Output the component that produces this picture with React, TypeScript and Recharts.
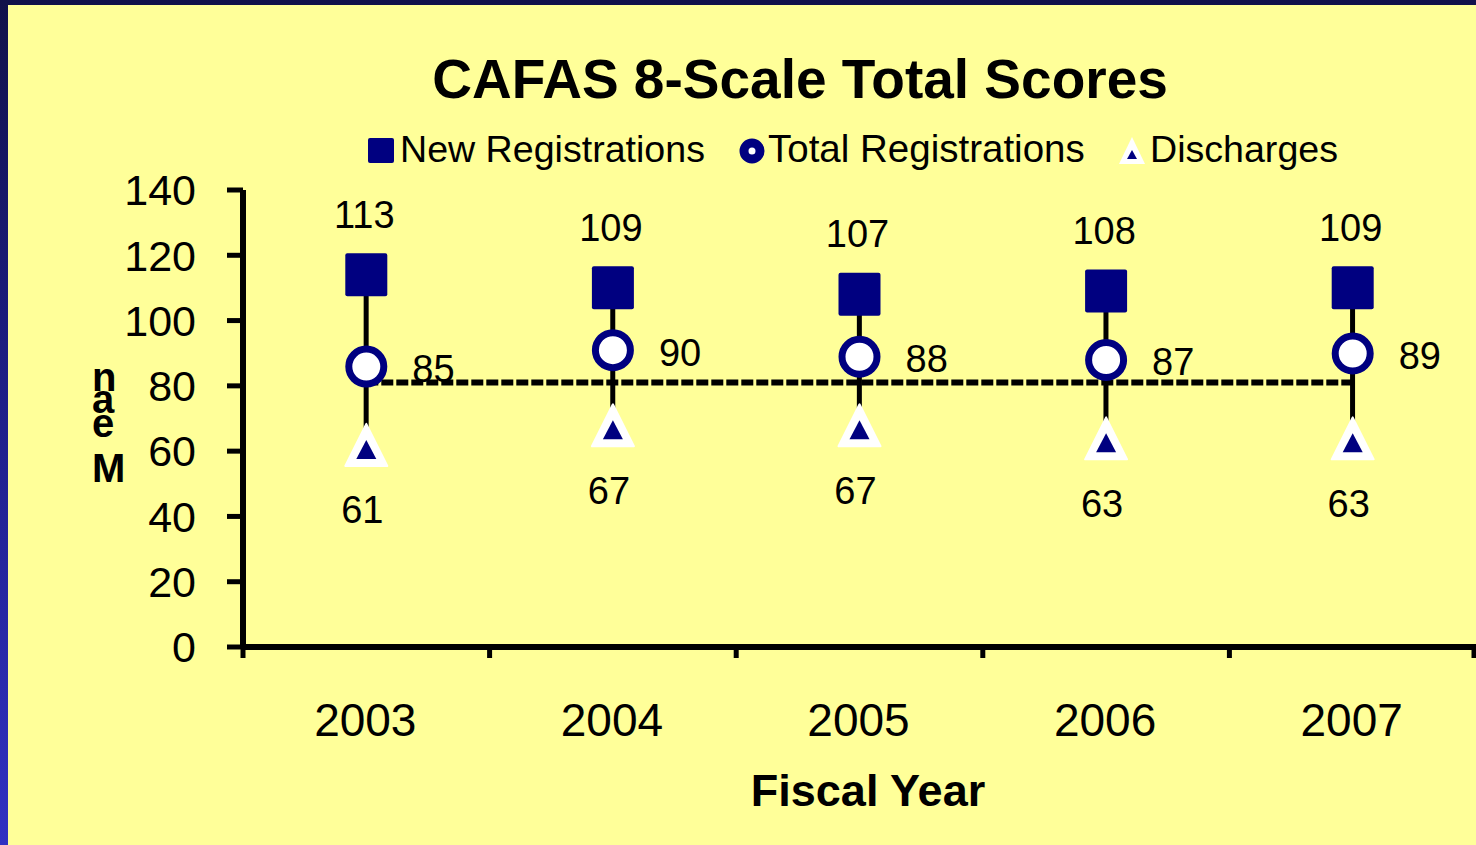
import React from 'react';
import { ComposedChart, Bar, Line, XAxis, YAxis, LabelList } from 'recharts';

const years = ['2003', '2004', '2005', '2006', '2007'];
const newRegistrations = [113, 109, 107, 108, 109];
const totalRegistrations = [85, 90, 88, 87, 89];
const discharges = [61, 67, 67, 63, 63];
const referenceLevel = [81, 81, 81, 81, 81];
const yTicks = [0, 20, 40, 60, 80, 100, 120, 140];

const NAVY = '#000080';
const FONT = '"Liberation Sans", Arial, sans-serif';

const data = years.map((year, i) => ({
  year,
  newReg: newRegistrations[i],
  total: totalRegistrations[i],
  discharge: discharges[i],
  range: [discharges[i], newRegistrations[i]],
  ref: referenceLevel[i],
}));

const StemShape = (props: any) => {
  const { x, y, width, height } = props;
  if (x == null || y == null) return <g />;
  const cx = x + width / 2;
  const y1 = Math.min(y, y + height);
  const y2 = Math.max(y, y + height);
  return <line x1={cx} x2={cx} y1={y1} y2={y2} stroke="#000" strokeWidth={5} />;
};

const SquareDot = (props: any) => {
  const { cx, cy, index } = props;
  if (cx == null || cy == null) return <g key={`sq${index}`} />;
  return <rect key={`sq${index}`} x={cx - 21} y={cy - 25} width={42} height={43} rx={2} fill={NAVY} />;
};

const CircleDot = (props: any) => {
  const { cx, cy, index } = props;
  if (cx == null || cy == null) return <g key={`ci${index}`} />;
  return <circle key={`ci${index}`} cx={cx} cy={cy - 3} r={17.5} fill="#fff" stroke={NAVY} strokeWidth={7} />;
};

const TriangleDot = (props: any) => {
  const { cx, cy, index } = props;
  if (cx == null || cy == null) return <g key={`tr${index}`} />;
  return (
    <g key={`tr${index}`}>
      <polygon
        points={`${cx},${cy - 24} ${cx - 21},${cy + 18} ${cx + 21},${cy + 18}`}
        fill="#fff"
        stroke="#fff"
        strokeWidth={2}
        strokeLinejoin="round"
      />
      <polygon points={`${cx},${cy - 8} ${cx - 10},${cy + 11} ${cx + 10},${cy + 11}`} fill={NAVY} />
    </g>
  );
};

const labelStyle = { fontFamily: FONT, fontSize: 38, fill: '#000' };

const TopLabel = (props: any) => {
  const { x, y, value } = props;
  return (
    <text x={x - 2} y={y - 64} dy="0.355em" textAnchor="middle" style={labelStyle}>
      {value}
    </text>
  );
};

const RightLabel = (props: any) => {
  const { x, y, value } = props;
  return (
    <text x={x + 46} y={y - 1} dy="0.355em" textAnchor="start" style={labelStyle}>
      {value}
    </text>
  );
};

const BottomLabel = (props: any) => {
  const { x, y, value } = props;
  return (
    <text x={x - 4} y={y + 62} dy="0.355em" textAnchor="middle" style={labelStyle}>
      {value}
    </text>
  );
};

const XTick = (props: any) => {
  const { x, y, payload, index, width } = props;
  const axisWidth = typeof width === 'number' && width > 0 ? width : 1233;
  const half = axisWidth / years.length / 2;
  return (
    <g>
      <line x1={x - half} x2={x - half} y1={y} y2={y + 11} stroke="#000" strokeWidth={5} />
      {index === years.length - 1 && (
        <line x1={x + half - 2} x2={x + half - 2} y1={y} y2={y + 11} stroke="#000" strokeWidth={5} />
      )}
      <text x={x - 1} y={y + 73} dy="0.355em" textAnchor="middle" style={{ fontFamily: FONT, fontSize: 46, fill: '#000' }}>
        {payload.value}
      </text>
    </g>
  );
};

export default function App() {
  return (
    <div
      style={{
        position: 'absolute',
        left: 0,
        top: 0,
        width: 1476,
        height: 845,
        background: 'linear-gradient(180deg, #11114a 0%, #1d1d85 45%, #3131c2 100%)',
        overflow: 'hidden',
      }}
    >
      <div style={{ position: 'absolute', left: 8, top: 5, right: 0, bottom: 0, background: '#FFFF99' }} />
      <div style={{ position: 'absolute', left: 0, top: 0 }}>
        <ComposedChart
          width={1476}
          height={845}
          data={data}
          margin={{ top: 190, right: 0, bottom: 58, left: 0 }}
        >
          <XAxis
            dataKey="year"
            height={140}
            axisLine={{ stroke: '#000', strokeWidth: 6 }}
            tickLine={false}
            tickSize={0}
            tickMargin={0}
            tick={<XTick />}
            interval={0}
          />
          <YAxis
            width={243}
            domain={[0, 140]}
            ticks={yTicks}
            interval={0}
            axisLine={{ stroke: '#000', strokeWidth: 6 }}
            tickLine={{ stroke: '#000', strokeWidth: 5 }}
            tickSize={16}
            tickMargin={31}
            tick={{ fontFamily: FONT, fontSize: 43, fill: '#000' }}
          />
          <Bar dataKey="range" shape={<StemShape />} isAnimationActive={false} />
          <Line
            dataKey="discharge"
            stroke="none"
            dot={TriangleDot}
            activeDot={false}
            isAnimationActive={false}
          >
            <LabelList dataKey="discharge" content={<BottomLabel />} />
          </Line>
          <Line
            dataKey="newReg"
            stroke="none"
            dot={SquareDot}
            activeDot={false}
            isAnimationActive={false}
          >
            <LabelList dataKey="newReg" content={<TopLabel />} />
          </Line>
          <Line
            dataKey="total"
            stroke="none"
            dot={CircleDot}
            activeDot={false}
            isAnimationActive={false}
          >
            <LabelList dataKey="total" content={<RightLabel />} />
          </Line>
          <Line
            dataKey="ref"
            stroke="#000"
            strokeWidth={6}
            strokeDasharray="12 3"
            dot={false}
            activeDot={false}
            isAnimationActive={false}
          />
        </ComposedChart>
      </div>
      <svg
        width={1476}
        height={845}
        style={{ position: 'absolute', left: 0, top: 0, pointerEvents: 'none' }}
      >
        <text x={800} y={98} textAnchor="middle" style={{ fontFamily: FONT, fontSize: 55, fontWeight: 'bold', fill: '#000' }}>
          CAFAS 8-Scale Total Scores
        </text>
        <rect x={368} y={138} width={26} height={25} rx={2} fill={NAVY} />
        <text x={400} y={162} style={{ fontFamily: FONT, fontSize: 37.6, fill: '#000' }}>New Registrations</text>
        <circle cx={752} cy={151} r={8} fill="#fff" stroke={NAVY} strokeWidth={9} />
        <text x={768} y={162} style={{ fontFamily: FONT, fontSize: 38.5, fill: '#000' }}>Total Registrations</text>
        <polygon points="1132,137 1119,164 1145,164" fill="#fff" />
        <polygon points="1132,150 1127,159 1137,159" fill={NAVY} />
        <text x={1150} y={162} style={{ fontFamily: FONT, fontSize: 37.6, fill: '#000' }}>Discharges</text>
        <text
          x="0 45 69 91"
          y={0}
          transform="translate(92, 482) rotate(-90)"
          rotate="90"
          style={{ fontFamily: FONT, fontSize: 40, fontWeight: 'bold', fill: '#000' }}
        >
          Mean
        </text>
        <text x={868} y={806} textAnchor="middle" style={{ fontFamily: FONT, fontSize: 45, fontWeight: 'bold', fill: '#000' }}>
          Fiscal Year
        </text>
      </svg>
    </div>
  );
}
